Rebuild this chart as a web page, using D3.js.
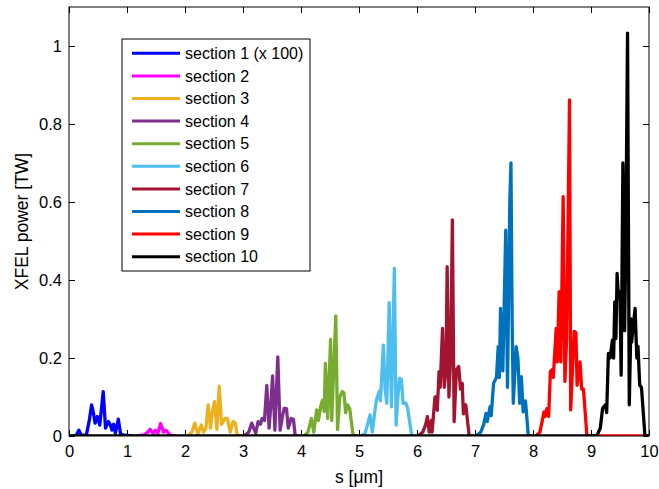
<!DOCTYPE html>
<html>
<head>
<meta charset="utf-8">
<script src="https://cdn.jsdelivr.net/npm/d3@7"></script>
<style>
  body { margin: 0; background: #fff; }
  text { font-family: "Liberation Sans", Arial, Helvetica, sans-serif; }
</style>
</head>
<body>
<script>
// section traces: [s in um, power in TW]
const sec1 = [[0.02,0],[0.12,0],[0.17,0.015],[0.21,0.002],[0.30,0.003],[0.35,0.04],[0.39,0.08],[0.42,0.06],[0.45,0.033],[0.49,0.05],[0.53,0.028],[0.56,0.07],[0.59,0.114],[0.63,0.02],[0.68,0.037],[0.71,0.03],[0.74,0.015],[0.77,0.03],[0.80,0.007],[0.85,0.043],[0.89,0.005],[0.95,0.002],[1.10,0]];
const sec2 = [[1.15,0],[1.30,0.003],[1.36,0.01],[1.40,0.017],[1.45,0.007],[1.49,0.015],[1.53,0.006],[1.58,0.032],[1.63,0.01],[1.67,0.015],[1.74,0.002],[1.85,0]];
const sec3 = [[2.05,0],[2.12,0.01],[2.17,0.033],[2.22,0.005],[2.28,0.028],[2.32,0.01],[2.36,0.02],[2.40,0.08],[2.44,0.02],[2.47,0.06],[2.51,0.088],[2.55,0.017],[2.59,0.128],[2.63,0.03],[2.69,0.045],[2.73,0.045],[2.78,0.01],[2.83,0.037],[2.87,0.033],[2.90,0],[2.98,0]];
const sec4 = [[3.02,0],[3.10,0.01],[3.15,0.033],[3.22,0.007],[3.26,0.037],[3.30,0.03],[3.33,0.045],[3.37,0.04],[3.41,0.13],[3.45,0.02],[3.48,0.08],[3.51,0.154],[3.55,0.015],[3.60,0.203],[3.64,0.015],[3.68,0.05],[3.71,0.071],[3.75,0.07],[3.78,0.02],[3.83,0.045],[3.87,0.043],[3.90,0],[3.98,0]];
const sec5 = [[4.05,0],[4.12,0.01],[4.18,0.045],[4.22,0.01],[4.27,0.067],[4.30,0.04],[4.34,0.076],[4.37,0.092],[4.40,0.063],[4.42,0.186],[4.46,0.045],[4.51,0.248],[4.53,0.04],[4.60,0.308],[4.63,0.017],[4.67,0.1],[4.71,0.114],[4.74,0.11],[4.77,0.06],[4.80,0.08],[4.84,0.07],[4.87,0.035],[4.90,0],[4.98,0]];
const sec6 = [[5.02,0],[5.10,0.005],[5.15,0.03],[5.19,0.054],[5.23,0.01],[5.27,0.06],[5.30,0.092],[5.35,0.115],[5.37,0.09],[5.42,0.233],[5.45,0.12],[5.48,0.084],[5.52,0.342],[5.56,0.075],[5.61,0.43],[5.64,0.028],[5.67,0.1],[5.70,0.148],[5.73,0.145],[5.76,0.084],[5.81,0.084],[5.84,0.07],[5.88,0.03],[5.91,0],[5.98,0]];
const sec7 = [[6.02,0],[6.10,0.01],[6.15,0.03],[6.18,0.05],[6.21,0.01],[6.25,0.04],[6.26,0.01],[6.31,0.1],[6.34,0.1],[6.35,0.066],[6.38,0.165],[6.40,0.125],[6.44,0.276],[6.47,0.125],[6.50,0.17],[6.52,0.434],[6.55,0.1],[6.58,0.2],[6.61,0.554],[6.64,0.037],[6.68,0.17],[6.72,0.178],[6.75,0.12],[6.78,0.135],[6.80,0.057],[6.84,0.08],[6.90,0],[6.98,0]];
const sec8 = [[7.02,0],[7.10,0.01],[7.15,0.03],[7.19,0.058],[7.21,0.037],[7.26,0.075],[7.28,0.052],[7.32,0.135],[7.37,0.15],[7.40,0.229],[7.42,0.15],[7.44,0.327],[7.48,0.167],[7.53,0.528],[7.56,0.125],[7.60,0.6],[7.62,0.70],[7.64,0.3],[7.66,0.084],[7.71,0.229],[7.74,0.2],[7.77,0.084],[7.80,0.152],[7.83,0.062],[7.87,0.09],[7.92,0],[7.98,0]];
const sec9 = [[8.05,0],[8.12,0.01],[8.19,0.062],[8.21,0.05],[8.24,0.07],[8.27,0.05],[8.30,0.165],[8.33,0.17],[8.35,0.15],[8.40,0.276],[8.42,0.19],[8.45,0.37],[8.48,0.19],[8.52,0.614],[8.55,0.14],[8.58,0.25],[8.63,0.862],[8.65,0.067],[8.71,0.268],[8.74,0.265],[8.76,0.13],[8.81,0.19],[8.84,0.12],[8.87,0.12],[8.93,0],[10,0]];
const sec10 = [[0,0],[9.10,0],[9.16,0.02],[9.20,0.071],[9.25,0.08],[9.27,0.06],[9.30,0.212],[9.33,0.2],[9.37,0.246],[9.39,0.2],[9.41,0.344],[9.43,0.25],[9.45,0.417],[9.47,0.36],[9.50,0.37],[9.52,0.156],[9.55,0.70],[9.58,0.27],[9.60,0.494],[9.63,1.033],[9.66,0.08],[9.69,0.30],[9.70,0.24],[9.76,0.327],[9.79,0.2],[9.81,0.23],[9.84,0.13],[9.87,0.125],[9.93,0],[10,0]];

const names = ["section 1 (x 100)","section 2","section 3","section 4","section 5","section 6","section 7","section 8","section 9","section 10"];
const colors = ["#0000ff","#ff00ff","#edb120","#7e2f8e","#77ac30","#4dbeee","#a2142f","#0072bd","#ff0000","#000000"];
const xTicks = [0,1,2,3,4,5,6,7,8,9,10];
const yTicks = [0,0.2,0.4,0.6,0.8,1];

const series = [sec1,sec2,sec3,sec4,sec5,sec6,sec7,sec8,sec9,sec10];

const W = 659, H = 489;
const margin = { top: 7, right: 10, bottom: 53, left: 69 };
const innerW = W - margin.left - margin.right;
const innerH = H - margin.top - margin.bottom;

const svg = d3.select("body").append("svg")
  .attr("width", W)
  .attr("height", H);

const g = svg.append("g")
  .attr("transform", `translate(${margin.left},${margin.top})`);

const x = d3.scaleLinear().domain([0, 10]).range([0, innerW]);
const y = d3.scaleLinear().domain([0, 1.1]).range([innerH, 0]);

g.append("clipPath").attr("id", "clip")
  .append("rect").attr("width", innerW).attr("height", innerH);

// traces
const line = d3.line().x(d => x(d[0])).y(d => y(d[1]));
g.append("g").attr("clip-path", "url(#clip)")
  .selectAll("path")
  .data(series)
  .join("path")
  .attr("d", line)
  .attr("fill", "none")
  .attr("stroke", (d, i) => colors[i])
  .attr("stroke-width", 3.3)
  .attr("stroke-linejoin", "round");

// axes, ticks pointing inward on all four sides
const fmt = d3.format("");
g.append("g").attr("class", "ax")
  .attr("transform", `translate(0,${innerH})`)
  .call(d3.axisBottom(x).tickValues(xTicks).tickSize(-6).tickPadding(9).tickFormat(fmt));
g.append("g").attr("class", "ax")
  .call(d3.axisTop(x).tickValues(xTicks).tickSize(-6).tickFormat(""));
g.append("g").attr("class", "ax")
  .call(d3.axisLeft(y).tickValues(yTicks).tickSize(-6).tickPadding(7).tickFormat(fmt));
g.append("g").attr("class", "ax")
  .attr("transform", `translate(${innerW},0)`)
  .call(d3.axisRight(y).tickValues(yTicks).tickSize(-6).tickFormat(""));

g.selectAll(".ax .domain").remove();
g.selectAll(".ax text")
  .style("font-size", "16.5px")
  .style("font-family", "'Liberation Sans', Arial, sans-serif")
  .attr("fill", "#000");
g.selectAll(".ax line").attr("stroke", "#000");

g.append("rect")
  .attr("width", innerW)
  .attr("height", innerH)
  .attr("fill", "none")
  .attr("stroke", "#000")
  .attr("stroke-width", 1);

// axis labels
g.append("text")
  .attr("x", x(5))
  .attr("y", innerH + 47)
  .attr("text-anchor", "middle")
  .style("font-size", "17.5px")
  .text("s [μm]");

g.append("text")
  .attr("transform", "rotate(-90)")
  .attr("x", -y(0.55))
  .attr("y", -41)
  .attr("text-anchor", "middle")
  .style("font-size", "17.5px")
  .text("XFEL power [TW]");

// legend
const legend = svg.append("g")
  .attr("transform", "translate(122,39)");

legend.append("rect")
  .attr("width", 188)
  .attr("height", 232)
  .attr("fill", "#fff")
  .attr("stroke", "#000")
  .attr("stroke-width", 1);

const rowH = 22.6;
const rows = legend.selectAll("g.row")
  .data(names)
  .join("g")
  .attr("class", "row")
  .attr("transform", (d, i) => `translate(0,${14.3 + i * rowH})`);

rows.append("line")
  .attr("x1", 10).attr("x2", 58)
  .attr("stroke", (d, i) => colors[i])
  .attr("stroke-width", 3);

rows.append("text")
  .attr("x", 63)
  .attr("dy", "0.35em")
  .style("font-size", "16px")
  .text(d => d);
</script>
</body>
</html>
